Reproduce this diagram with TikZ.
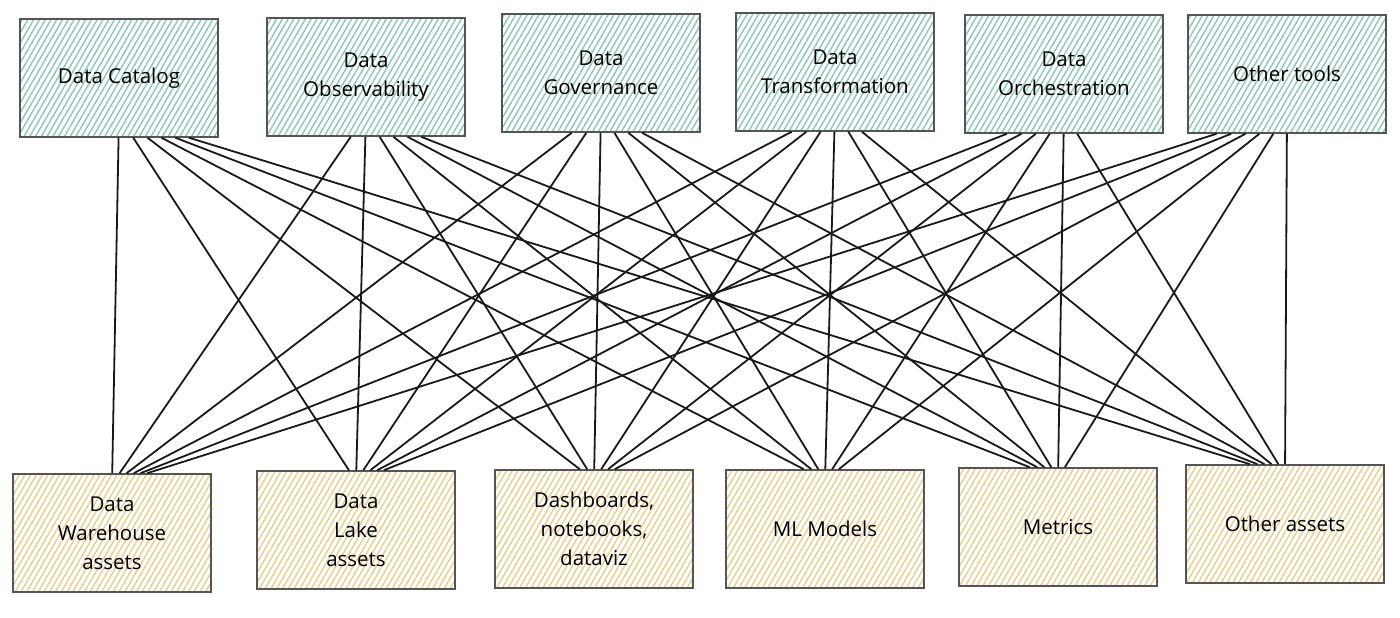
\documentclass[tikz,border=0pt]{standalone}
\usepackage{fontspec}
\setmainfont{Open Sans}
\usetikzlibrary{positioning,calc,patterns.meta}
\definecolor{col1}{RGB}{140,198,184}
\definecolor{col2}{RGB}{232,206,140}
\definecolor{col3}{RGB}{85,85,85}
\tikzstyle{box}=[draw=col3, line width=1.6pt, minimum width=198pt, minimum height=118pt, align=center, font=\fontsize{20.5}{29}\selectfont]
\tikzstyle{tool}=[box, pattern={Lines[angle=60,distance=5pt,line width=1.4pt]}, pattern color=col1]
\tikzstyle{asset}=[box, pattern={Lines[angle=60,distance=5pt,line width=1.4pt]}, pattern color=col2]
\tikzstyle{link}=[draw, line width=1.8pt, black!90]
\begin{document}
\begin{tikzpicture}[x=1pt,y=-1pt,node distance=235pt]
    \useasboundingbox (0,0) rectangle (1400,618);
    % tools
    \node [tool] (cat) at (119,78) {Data Catalog};
    \node [tool] (obs) [right of=cat,node distance=247pt,yshift=1pt] {Data\\Observability};
    \node [tool] (gov) [right of=obs,node distance=235pt,yshift=4pt] {Data\\Governance};
    \node [tool] (trans) [right of=gov,node distance=234pt,yshift=1pt] {Data\\Transformation};
    \node [tool] (orch) [right of=trans,node distance=229pt,yshift=-2pt] {Data\\Orchestration};
    \node [tool] (tools) [right of=orch,node distance=223pt] {Other tools};
    % assets
    \node [asset] (dw) at (112,533) {Data\\Warehouse\\assets};
    \node [asset] (lake) [right of=dw,node distance=244pt,yshift=3pt] {Data\\Lake\\assets};
    \node [asset] (dash) [right of=lake,node distance=238pt,yshift=1pt] {Dashboards,\\notebooks,\\dataviz};
    \node [asset] (ml) [right of=dash,node distance=231pt] {ML Models};
    \node [asset] (metr) [right of=ml,node distance=233pt,yshift=2pt] {Metrics};
    \node [asset] (assets) [right of=metr,node distance=227pt,yshift=3pt] {Other assets};
    % every tool talks to every asset
    \foreach \s in {cat,obs,gov,trans,orch,tools}
      \foreach \t in {dw,lake,dash,ml,metr,assets} {
        \coordinate (p) at ($(\s.south)!0.06!(\t.north)$);
        \coordinate (q) at ($(\t.north)!0.03!(\s.south)$);
        \path [link] (p |- \s.south) -- (q |- \t.north);
      }
\end{tikzpicture}
\end{document}
